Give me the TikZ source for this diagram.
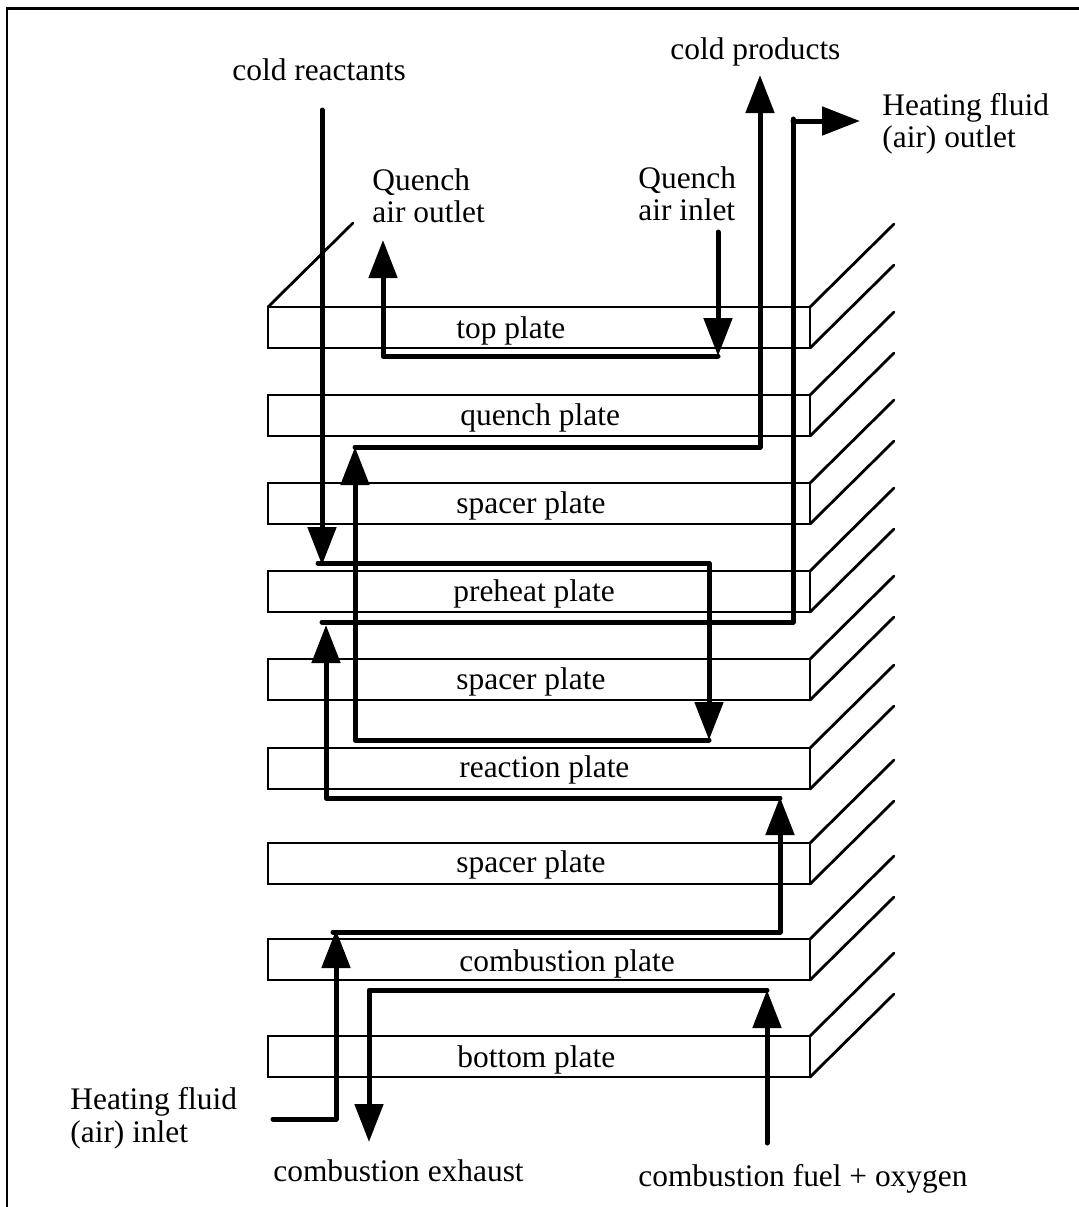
\documentclass[tikz,border=0pt]{standalone}
\usepackage{fontspec}
\setmainfont{Liberation Serif}
\usetikzlibrary{arrows.meta}
\tikzset{
  lbl/.style={anchor=base west,inner sep=0pt,align=left,font=\fontsize{15.7}{16}\selectfont},
  outline/.style={line width=1.4pt,line cap=round},
  flow/.style={line width=2.5pt,line cap=round,line join=round},
  flowtip/.style={flow,-{Triangle[length=19pt,width=14pt]}}
}
\begin{document}
\begin{tikzpicture}[x=.5pt,y=-.5pt]
    \useasboundingbox (0,0) rectangle (1079,1207);
    \draw[outline,line cap=butt] (7,1207) -- (7,8.5) -- (1079,8.5);
    % plates
    \foreach \y/\lx/\ly/\name in {307/456/338/top plate,395/460/425/quench plate,483/456/513/spacer plate,571/453/601/preheat plate,659/456/689/spacer plate,748/459/777/reaction plate,843/456/872/spacer plate,939/459/971/combustion plate,1036/457/1067/bottom plate}{
      \draw[outline] (268,\y) rectangle (810,\y+41);
      \draw[outline] (810,\y) -- ++(84,-83); \draw[outline] (810,\y+41) -- ++(84,-83);
      \node[lbl] (plate\y) at (\lx,\ly) {\name};
    }
    \draw[outline] (268,307) -- (353,223);
    % labels
    \node[lbl] (reactants) at (232,80) {cold reactants};
    \node[lbl] (products) at (670,59) {cold products};
    \node[lbl] (heatout) at (882,115) {Heating fluid};
    \node[lbl] (heatoutb) at (882,147) {(air) outlet};
    \node[lbl] (quenchout) at (372,190) {Quench};
    \node[lbl] (quenchoutb) at (372,222) {air outlet};
    \node[lbl] (quenchin) at (638,188) {Quench};
    \node[lbl] (quenchinb) at (638,220) {air inlet};
    \node[lbl] (heatin) at (70,1109) {Heating fluid};
    \node[lbl] (heatinb) at (70,1142) {(air) inlet};
    \node[lbl] (exhaust) at (273,1181) {combustion exhaust};
    \node[lbl] (fuel) at (638,1186) {combustion fuel + oxygen};
    % reactant and product path
    \coordinate (r0) at (322,110); \coordinate (r1) at (322,565);
    \coordinate (r2) at (318,563); \coordinate (r3) at (709,740);
    \coordinate (r4) at (355,740); \coordinate (r5) at (355,447);
    \coordinate (r6) at (760,75);
    \draw[flowtip] (r0) -- (r1);
    \draw[flowtip] (r2) -| (r3);
    \draw[flowtip] (r3) -- (r4) -- (r5);
    \draw[flowtip] (r5) -| (r6);
    % quench path
    \coordinate (q0) at (718,232); \coordinate (q1) at (718,356);
    \coordinate (q2) at (383,356); \coordinate (q3) at (383,240);
    \draw[flowtip] (q0) -- (q1);
    \draw[flowtip] (q1) -- (q2) -- (q3);
    % heating fluid path
    \coordinate (h0) at (273,1119); \coordinate (h1) at (336,1119);
    \coordinate (h2) at (336,930); \coordinate (h3) at (333,932);
    \coordinate (h4) at (780,797); \coordinate (h5) at (326,798);
    \coordinate (h6) at (326,625); \coordinate (h7) at (322,622);
    \coordinate (h8) at (793,119); \coordinate (h9) at (860,121);
    \draw[flowtip] (h0) -- (h1) -- (h2);
    \draw[flowtip] (h3) -| (h4);
    \draw[flowtip] (h4 |- h5) -- (h5) -- (h6);
    \draw[flow] (h7) -| (h8);
    \draw[flowtip] (h8 |- h9) -- (h9);
    % combustion path
    \coordinate (c0) at (767,1143); \coordinate (c1) at (767,990);
    \coordinate (c2) at (369,990); \coordinate (c3) at (369,1142);
    \draw[flowtip] (c0) -- (c1);
    \draw[flowtip] (c1) -- (c2) -- (c3);
  \end{tikzpicture}
\end{document}
